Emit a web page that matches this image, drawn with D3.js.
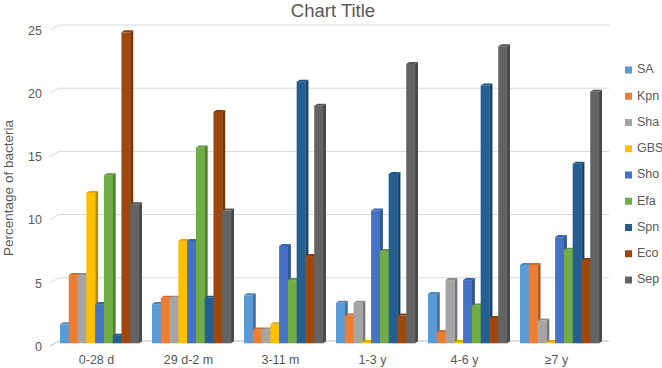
<!DOCTYPE html>
<html>
<head>
<meta charset="utf-8">
<script src="https://cdn.jsdelivr.net/npm/d3@7"></script>
<style>
  body { margin: 0; background: #fff; }
  #chart { width: 662px; height: 368px; }
  text { font-family: "Liberation Sans", Arial, sans-serif; fill: #595959; }
</style>
</head>
<body>
<div id="chart"></div>
<script>
// age groups along the x axis
const categories = ["0-28 d", "29 d-2 m", "3-11 m", "1-3 y", "4-6 y", "\u22657 y"];
const seriesNames = ["SA", "Kpn", "Sha", "GBS", "Sho", "Efa", "Spn", "Eco", "Sep"];
const seriesColours = ["#5B9BD5", "#ED7D31", "#A5A5A5", "#FFC000", "#4472C4", "#70AD47", "#255E91", "#9E480E", "#636363"];

// percentage of bacteria, one array per organism (same order as categories)
const SA = [1.5, 3.1, 3.8, 3.2, 3.9, 6.2];
const Kpn = [5.4, 3.6, 1.1, 2.2, 0.9, 6.2];
const Sha = [5.4, 3.6, 1.1, 3.2, 5.0, 1.8];
const GBS = [11.9, 8.1, 1.5, 0.1, 0.1, 0.1];
const Sho = [3.1, 8.1, 7.7, 10.5, 5.0, 8.4];
const Efa = [13.3, 15.5, 5.0, 7.3, 3.0, 7.4];
const Spn = [0.6, 3.6, 20.7, 13.4, 20.4, 14.2];
const Eco = [24.6, 18.3, 6.9, 2.2, 2.0, 6.6];
const Sep = [11.0, 10.5, 18.8, 22.1, 23.5, 19.9];

const yTicks = [0, 5, 10, 15, 20, 25];

(function () {
  const width = 662;
  const height = 368;
  const depthX = 3;  // fake 3d offset of the bars
  const depthY = 2;

  const seriesValues = [SA, Kpn, Sha, GBS, Sho, Efa, Spn, Eco, Sep];
  const rows = categories.map((c, i) => ({
    category: c,
    values: seriesNames.map((s, j) => ({ series: s, value: seriesValues[j][i], colour: seriesColours[j] }))
  }));

  const svg = d3.select("#chart").append("svg")
    .attr("width", width)
    .attr("height", height);

  const x = d3.scaleBand()
    .domain(categories)
    .range([53.5, 605.5])
    .paddingInner(0.141)
    .paddingOuter(0.0705);

  const xInner = d3.scaleBand()
    .domain(seriesNames)
    .range([0, x.bandwidth()]);

  // front face of bars and the back wall use slightly different scales
  const y = d3.scaleLinear().domain([0, 25]).range([343.3, 27.3]);
  const yBack = d3.scaleLinear().domain([0, 25]).range([341, 25]);

  // gridlines on the back wall, with the slanted side-wall stub
  const grid = svg.append("g").attr("class", "grid");
  yTicks.forEach((t) => {
    const yy = yBack(t);
    grid.append("path")
      .attr("d", `M50,${yy + 5}L59,${yy}L609,${yy}`)
      .attr("fill", "none")
      .attr("stroke", t === 0 ? "#bfbfbf" : "#d9d9d9")
      .attr("stroke-width", 1);
    grid.append("text")
      .attr("x", 42)
      .attr("y", yy + 6.5)
      .attr("text-anchor", "end")
      .attr("dominant-baseline", "middle")
      .style("font-size", "12.5px")
      .text(t);
  });

  // bars, drawn left to right so each bar hides the side of the one before
  const groups = svg.selectAll("g.group")
    .data(rows)
    .join("g")
    .attr("class", "group")
    .attr("transform", (d) => `translate(${x(d.category)},0)`);

  const bars = groups.selectAll("g.bar")
    .data((d) => d.values)
    .join("g")
    .attr("class", "bar");

  const bw = xInner.bandwidth();
  const base = y(0);

  bars.append("path") // side
    .attr("d", (d) => {
      const x0 = xInner(d.series) + bw, t = y(d.value);
      return `M${x0},${t}L${x0 + depthX},${t - depthY}L${x0 + depthX},${base - depthY}L${x0},${base}Z`;
    })
    .attr("fill", (d) => d3.color(d.colour).darker(0.9));

  bars.append("path") // top
    .attr("d", (d) => {
      const x0 = xInner(d.series), t = y(d.value);
      return `M${x0},${t}L${x0 + depthX},${t - depthY}L${x0 + bw + depthX},${t - depthY}L${x0 + bw},${t}Z`;
    })
    .attr("fill", (d) => d3.color(d.colour).darker(0.4));

  bars.append("rect") // front
    .attr("x", (d) => xInner(d.series))
    .attr("y", (d) => y(d.value))
    .attr("width", bw + 0.3)
    .attr("height", (d) => base - y(d.value))
    .attr("fill", (d) => d.colour);

  // category labels
  svg.append("g").selectAll("text")
    .data(categories)
    .join("text")
    .attr("x", (d) => x(d) + x.bandwidth() / 2 - 3)
    .attr("y", 361)
    .attr("text-anchor", "middle")
    .attr("dominant-baseline", "middle")
    .style("font-size", "12.5px")
    .text((d) => d);

  // title and axis title
  svg.append("text")
    .attr("x", 333)
    .attr("y", 12)
    .attr("text-anchor", "middle")
    .attr("dominant-baseline", "middle")
    .style("font-size", "18.5px")
    .text("Chart Title");

  svg.append("text")
    .attr("transform", "translate(9,188) rotate(-90)")
    .attr("text-anchor", "middle")
    .attr("dominant-baseline", "middle")
    .style("font-size", "13.5px")
    .text("Percentage of bacteria");

  // legend
  const legend = svg.append("g").attr("class", "legend");
  const legendY = d3.scalePoint().domain(seriesNames).range([70, 280]);
  seriesNames.forEach((s, i) => {
    const ly = legendY(s);
    legend.append("rect")
      .attr("x", 625)
      .attr("y", ly - 3.5)
      .attr("width", 7)
      .attr("height", 7)
      .attr("fill", seriesColours[i]);
    legend.append("text")
      .attr("x", 637)
      .attr("y", ly)
      .attr("dominant-baseline", "middle")
      .style("font-size", "12.5px")
      .text(s);
  });
})();
</script>
</body>
</html>
